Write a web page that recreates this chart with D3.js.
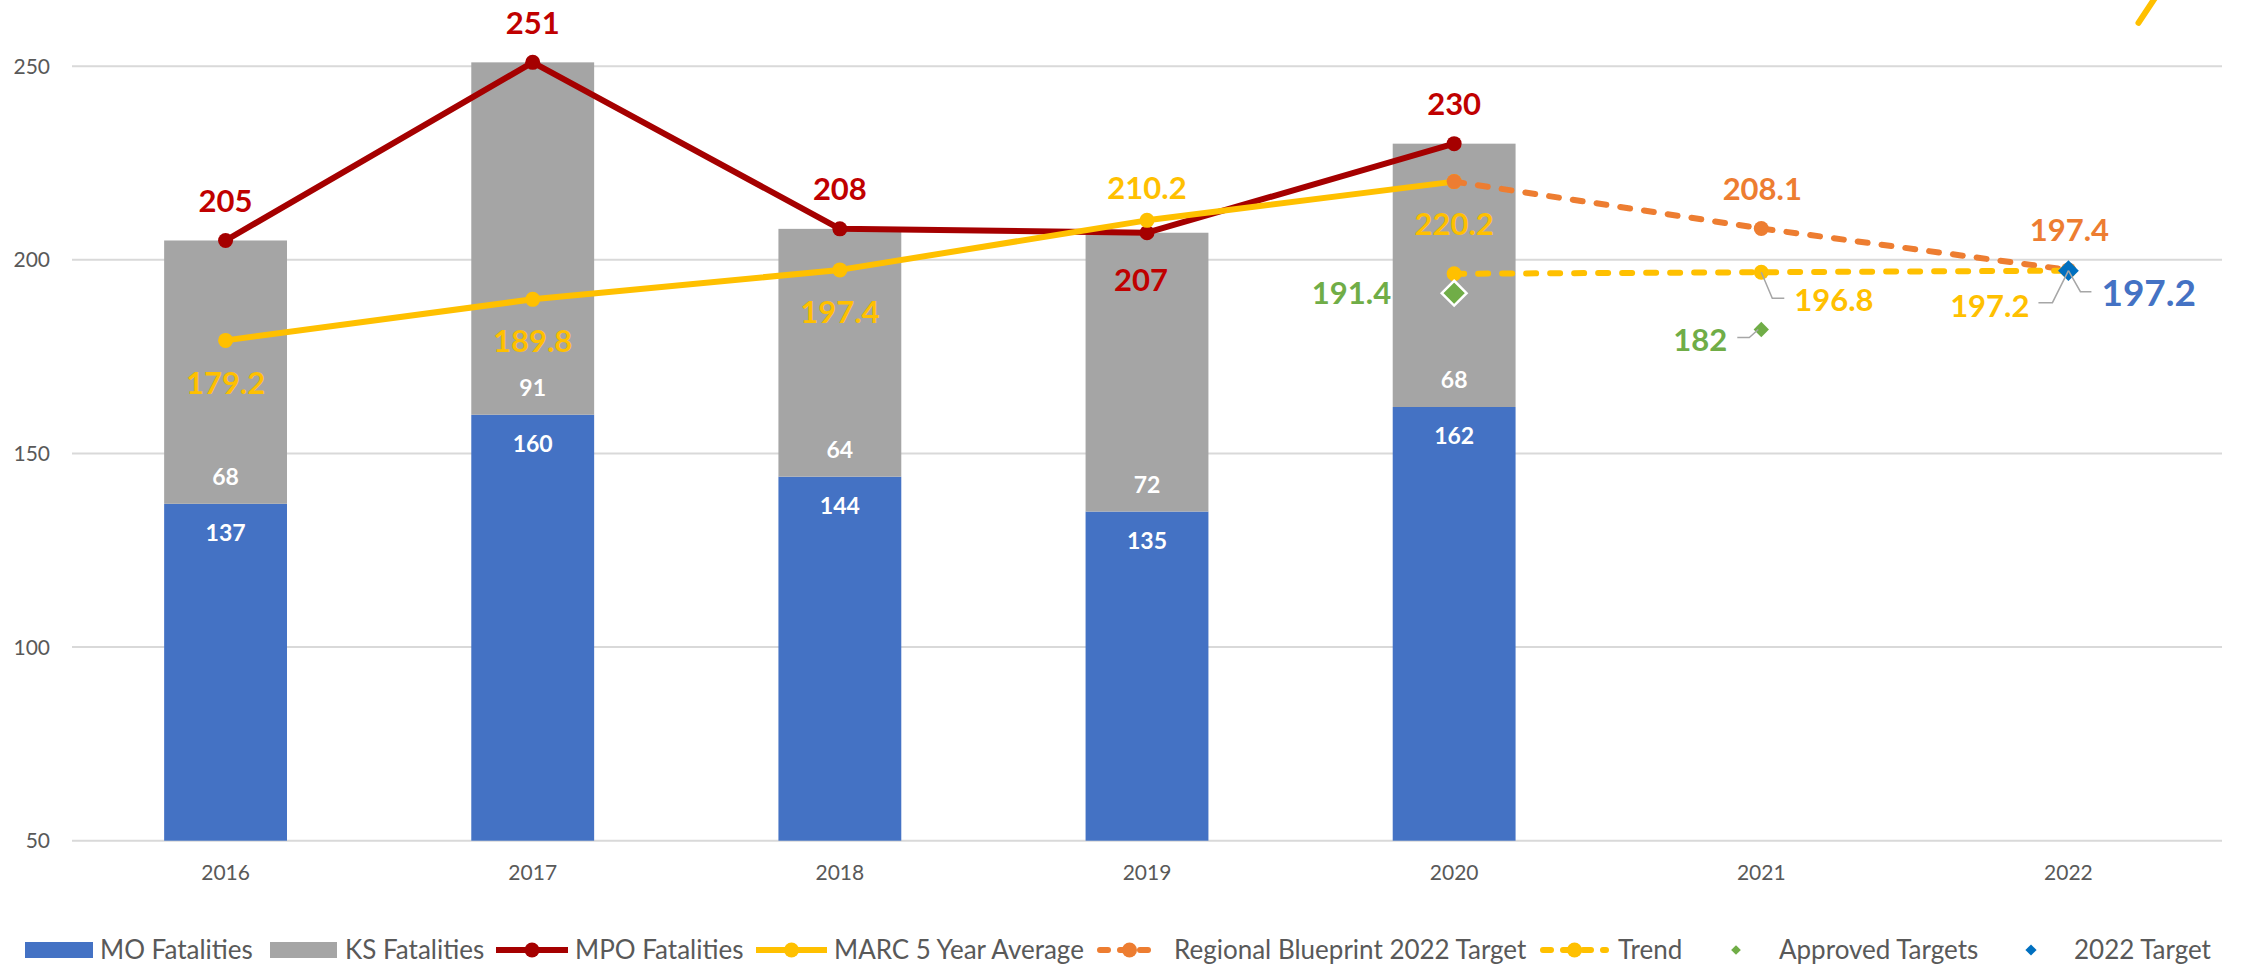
<!DOCTYPE html>
<html>
<head>
<meta charset="utf-8">
<script src="https://cdn.jsdelivr.net/npm/d3@7"></script>
<style>
  html, body { margin: 0; padding: 0; background: #fff; }
  svg { display: block; font-family: Lato, "Liberation Sans", sans-serif; }
</style>
</head>
<body>
<svg id="chart" width="2241" height="973"></svg>
<script>
// ---------- data ----------
const years = ["2016", "2017", "2018", "2019", "2020", "2021", "2022"];
const barYears = ["2016", "2017", "2018", "2019", "2020"];
const moFatalities = [137, 160, 144, 135, 162];
const ksFatalities = [68, 91, 64, 72, 68];
const mpoFatalities = [205, 251, 208, 207, 230];
const marc5YearAverage = [179.2, 189.8, 197.4, 210.2, 220.2];
const blueprintYears = ["2020", "2021", "2022"];
const blueprintTarget = [220.2, 208.1, 197.4];
const trendYears = ["2020", "2021", "2022"];
const trendValues = [196.4, 196.8, 197.2];
const approvedYears = ["2020", "2021"];
const approvedTargets = [191.4, 182];
const target2022Years = ["2022"];
const target2022 = [197.2];
const yTicks = [50, 100, 150, 200, 250];
const legendLabels = ["MO Fatalities", "KS Fatalities", "MPO Fatalities", "MARC 5 Year Average",
  "Regional Blueprint 2022 Target", "Trend", "Approved Targets", "2022 Target"];
// partial stroke visible at the top-right edge (band offset from 2022, value)
const edgeStrokeOffsets = [0.228, 0.31];
const edgeStrokeValues = [261.2, 271];

// ---------- colors ----------
const C = {
  mo: "#4472C4", ks: "#A5A5A5", mpo: "#A50000", mpoLabel: "#C00000",
  marc: "#FFC000", blueprint: "#ED7D31", trend: "#FFC000",
  approved: "#70AD47", target: "#0070C0", targetLabel: "#4472C4",
  grid: "#D9D9D9", axis: "#595959", leader: "#A6A6A6"
};

const svg = d3.select("#chart");
const plotLeft = 72, plotRight = 2222, plotBottom = 840.7;

const x = d3.scaleBand().domain(years).range([plotLeft, plotRight])
  .paddingInner(0.6).paddingOuter(0.3);
const step = x.step();
const xc = d => x(d) + x.bandwidth() / 2;
const y = d3.scaleLinear().domain([50, 267.1]).range([plotBottom, 0]);
const yBar = y.copy().clamp(true);

// gridlines
svg.append("g").selectAll("line").data(yTicks).join("line")
  .attr("x1", plotLeft).attr("x2", plotRight)
  .attr("y1", d => y(d)).attr("y2", d => y(d))
  .attr("stroke", C.grid).attr("stroke-width", 2);

// y axis labels
svg.append("g").selectAll("text").data(yTicks).join("text")
  .attr("x", 50).attr("y", d => y(d)).attr("dy", "0.36em")
  .attr("text-anchor", "end").attr("fill", C.axis)
  .style("font-size", "21px").text(d => d);

// x axis labels
svg.append("g").selectAll("text").data(years).join("text")
  .attr("x", d => xc(d)).attr("y", 872).attr("dy", "0.36em")
  .attr("text-anchor", "middle").attr("fill", C.axis)
  .style("font-size", "21px").text(d => d);

// stacked bars
const stackData = barYears.map((yr, i) => ({ year: yr, mo: moFatalities[i], ks: ksFatalities[i] }));
const series = d3.stack().keys(["mo", "ks"])(stackData);
const barG = svg.append("g");
series.forEach(s => {
  barG.append("g").selectAll("rect").data(s).join("rect")
    .attr("x", d => x(d.data.year))
    .attr("width", x.bandwidth())
    .attr("y", d => yBar(d[1]))
    .attr("height", d => yBar(d[0]) - yBar(d[1]))
    .attr("fill", s.key === "mo" ? C.mo : C.ks);
});

// line helper
function drawLine(xs, vals, color, dashed) {
  const pts = xs.map((yr, i) => [xc(yr), y(vals[i])]);
  svg.append("path").attr("d", d3.line()(pts))
    .attr("fill", "none").attr("stroke", color).attr("stroke-width", 6)
    .attr("stroke-linejoin", "round")
    .attr("stroke-linecap", dashed ? "round" : "butt")
    .attr("stroke-dasharray", dashed ? "10,14" : null);
  svg.append("g").selectAll("circle").data(pts).join("circle")
    .attr("cx", d => d[0]).attr("cy", d => d[1]).attr("r", 7.5).attr("fill", color);
  return pts;
}

const mpoPts = drawLine(barYears, mpoFatalities, C.mpo, false);
const marcPts = drawLine(barYears, marc5YearAverage, C.marc, false);
const bpPts = drawLine(blueprintYears, blueprintTarget, C.blueprint, true);
const trPts = drawLine(trendYears, trendValues, C.trend, true);

// approved targets (diamonds)
const approvedSizes = [392, 150];
svg.append("g").selectAll("path").data(approvedYears).join("path")
  .attr("transform", (d, i) => `translate(${xc(d)},${y(approvedTargets[i])})`)
  .attr("d", (d, i) => d3.symbol(d3.symbolDiamond2, approvedSizes[i])())
  .attr("fill", C.approved)
  .attr("stroke", (d, i) => i === 0 ? "#fff" : "none").attr("stroke-width", 2.5);

// 2022 target
svg.append("g").selectAll("path").data(target2022Years).join("path")
  .attr("transform", (d, i) => `translate(${xc(d)},${y(target2022[i])})`)
  .attr("d", d3.symbol(d3.symbolDiamond2, 275)())
  .attr("fill", C.target);

// edge stroke at top right
svg.append("path")
  .attr("d", d3.line()(edgeStrokeOffsets.map((o, i) => [xc("2022") + o * step, y(edgeStrokeValues[i])])))
  .attr("stroke", C.marc).attr("stroke-width", 6).attr("stroke-linecap", "round").attr("fill", "none");

// ---------- labels ----------
const lab = svg.append("g");
function label(px, py, txt, color, size, anchor) {
  lab.append("text").attr("x", px).attr("y", py).attr("dy", "0.36em")
    .attr("text-anchor", anchor || "middle").attr("fill", color)
    .style("font-size", size + "px").style("font-weight", "bold").text(txt);
}
function leader(pts) {
  lab.append("path").attr("d", d3.line()(pts)).attr("fill", "none")
    .attr("stroke", C.leader).attr("stroke-width", 1.5);
}

// bar labels
stackData.forEach(d => {
  const cx = xc(d.year);
  label(cx, y(d.mo) + 29, d.mo, "#fff", 23);
  label(cx, y(d.mo) - 27, d.ks, "#fff", 23);
});

// MPO labels
mpoFatalities.forEach((v, i) => {
  const [px, py] = mpoPts[i];
  if (i === 3) label(px - 6, py + 47, v, C.mpoLabel, 31);
  else label(px, py - 40, v, C.mpoLabel, 31);
});

// MARC labels
marc5YearAverage.forEach((v, i) => {
  const [px, py] = marcPts[i];
  if (i === 3) label(px, py - 33, v.toFixed(1), C.marc, 31);
  else label(px, py + 42, v.toFixed(1), C.marc, 31);
});

// Blueprint labels (2021, 2022)
[1, 2].forEach(i => {
  const [px, py] = bpPts[i];
  label(px + 1, py - 40, blueprintTarget[i].toFixed(1), C.blueprint, 31);
});

// Trend labels
{
  const [px, py] = trPts[1];
  leader([[px, py], [px + 11, py + 26], [px + 23, py + 26]]);
  label(px + 33, py + 28, trendValues[1].toFixed(1), C.trend, 31, "start");
  const [qx, qy] = trPts[2];
  leader([[qx, qy], [qx - 16, qy + 32], [qx - 30, qy + 32]]);
  label(qx - 39, qy + 35, trendValues[2].toFixed(1), C.trend, 31, "end");
}

// Approved target labels
{
  const px = xc(approvedYears[0]), py = y(approvedTargets[0]);
  label(px - 63, py, approvedTargets[0].toFixed(1), C.approved, 31, "end");
  const qx = xc(approvedYears[1]), qy = y(approvedTargets[1]);
  leader([[qx - 3, qy], [qx - 12, qy + 8], [qx - 24, qy + 8]]);
  label(qx - 61, qy + 10, approvedTargets[1], C.approved, 31);
}

// 2022 target label
{
  const px = xc(target2022Years[0]), py = y(target2022[0]);
  leader([[px, py], [px + 12, py + 21], [px + 23, py + 21]]);
  label(px + 33, py + 22, target2022[0].toFixed(1), C.targetLabel, 37, "start");
}

// ---------- legend ----------
const lg = svg.append("g");
const ly = 950;
const legendText = (tx, i) => lg.append("text").attr("x", tx).attr("y", ly).attr("dy", "0.36em")
  .attr("fill", C.axis).style("font-size", "26px").text(legendLabels[i]);

lg.append("rect").attr("x", 25).attr("y", ly - 8).attr("width", 68).attr("height", 16).attr("fill", C.mo);
legendText(100, 0);
lg.append("rect").attr("x", 270).attr("y", ly - 8).attr("width", 67).attr("height", 16).attr("fill", C.ks);
legendText(345, 1);

function legendLine(x0, x1, color, dashed) {
  lg.append("line").attr("x1", x0).attr("x2", x1).attr("y1", ly).attr("y2", ly)
    .attr("stroke", color).attr("stroke-width", 6)
    .attr("stroke-dasharray", dashed ? "8,12" : null)
    .attr("stroke-linecap", dashed ? "round" : "butt");
  lg.append("circle").attr("cx", (x0 + x1) / 2).attr("cy", ly).attr("r", 7.5).attr("fill", color);
}
legendLine(496, 568, C.mpo, false);
legendText(575, 2);
legendLine(756, 827, C.marc, false);
legendText(834, 3);
legendLine(1100, 1159, C.blueprint, true);
legendText(1174, 4);
legendLine(1543, 1606, C.trend, true);
legendText(1618, 5);
lg.append("path").attr("transform", `translate(1736,${ly})`)
  .attr("d", d3.symbol(d3.symbolDiamond2, 60)()).attr("fill", C.approved);
legendText(1779, 6);
lg.append("path").attr("transform", `translate(2031,${ly})`)
  .attr("d", d3.symbol(d3.symbolDiamond2, 80)()).attr("fill", C.target);
legendText(2074, 7);
</script>
</body>
</html>
